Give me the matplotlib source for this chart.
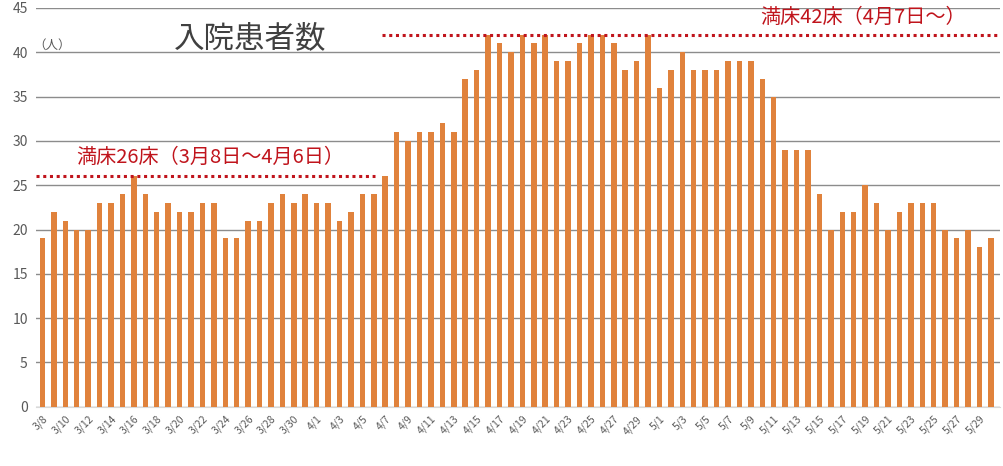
import numpy as np
import matplotlib
matplotlib.use("Agg")
import matplotlib.pyplot as plt

plt.rcParams['font.family'] = ['Noto Sans CJK JP', 'DejaVu Sans']

# dates 3/8 .. 5/30
dates = ["3/%d" % d for d in range(8, 32)] + \
        ["4/%d" % d for d in range(1, 31)] + \
        ["5/%d" % d for d in range(1, 31)]

patients = [19, 22, 21, 20, 20, 23, 23, 24, 26, 24, 22, 23, 22, 22, 23, 23,
            19, 19, 21, 21, 23, 24, 23, 24,
            23, 23, 21, 22, 24, 24, 26, 31, 30, 31, 31, 32, 31, 37, 38, 42,
            41, 40, 42, 41, 42, 39, 39, 41, 42, 42, 41, 38, 39, 42,
            36, 38, 40, 38, 38, 38, 39, 39, 39, 37, 35, 29, 29, 29, 24, 20,
            22, 22, 25, 23, 20, 22, 23, 23, 23, 20, 19, 20, 18, 19]

beds_before = 26   # 3/8 - 4/6
beds_after = 42    # 4/7 -
switch_idx = dates.index("4/7")

bar_color = '#e0823c'
red = '#c0141c'
grey = '#595959'

fig = plt.figure(figsize=(10.04, 4.66), dpi=100)
ax = fig.add_axes([0.036, 0.127, 0.96, 0.856])

x = np.arange(len(dates))
ax.bar(x, patients, width=0.48, color=bar_color, zorder=3)

ax.set_ylim(0, 45)
ax.set_xlim(-0.55, len(dates) - 0.2)
ax.set_yticks(range(0, 46, 5))
ax.yaxis.grid(True, color='#8c8c8c', linewidth=1, zorder=0)
ax.set_axisbelow(True)
for s in ['top', 'right', 'left']:
    ax.spines[s].set_visible(False)
ax.spines['bottom'].set_color('#d9d9d9')
ax.tick_params(axis='y', length=0, labelsize=10, labelcolor=grey, pad=6)
ax.tick_params(axis='x', length=0, labelsize=7.5, labelcolor=grey, pad=5)
ax.set_xticks(x[::2])
ax.set_xticklabels(dates[::2], rotation=45, ha='right', rotation_mode='anchor')

# full bed lines
ax.plot([-0.6, switch_idx - 0.9], [beds_before, beds_before], linestyle=(0, (1, 1.2)),
        color=red, linewidth=2.2, zorder=4, clip_on=False)
ax.plot([switch_idx - 0.25, len(dates) - 0.2], [beds_after, beds_after], linestyle=(0, (1, 1.2)),
        color=red, linewidth=2.2, zorder=4, clip_on=False)

ax.text(3, 26.9, "満床26床（3月8日～4月6日）", color=red, fontsize=14.5, va='bottom', ha='left')
ax.text(62.8, 42.8, "満床42床（4月7日～）", color=red, fontsize=14.5, va='bottom', ha='left')

ax.text(11.5, 41.5, "入院患者数", color='#404040', fontsize=22, va='center', ha='left')
ax.text(-0.8, 40.8, "（人）", color=grey, fontsize=9, va='center', ha='left')

fig.savefig("out.png", dpi=100, facecolor='white')
